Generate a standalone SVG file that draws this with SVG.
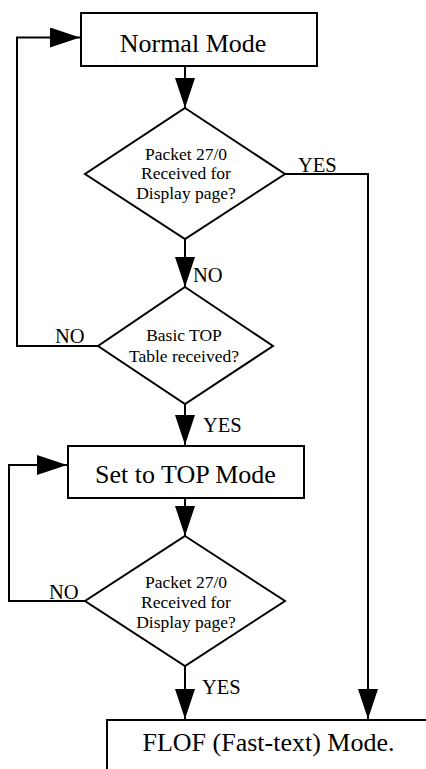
<svg xmlns="http://www.w3.org/2000/svg" width="426" height="769" viewBox="0 0 426 769">
<style>
  .box { fill: #fff; stroke: #000; stroke-width: 2; }
  .line { fill: none; stroke: #000; stroke-width: 2; }
  text { font-family: 'Liberation Serif', 'Times New Roman', serif; fill: #000; }
  .big { font-size: 26px; text-anchor: middle; }
  .mid { font-size: 17.5px; text-anchor: middle; }
  .lbl { font-size: 20.5px; }
</style>
<defs>
  <marker id="arrow" markerUnits="userSpaceOnUse" viewBox="0 0 30 20" markerWidth="30" markerHeight="20" refX="30" refY="10" orient="auto">
    <path d="M0,0 L30,10 L0,20 Z" fill="#000"/>
  </marker>
</defs>
<rect width="426" height="769" fill="#fff"/>
<g id="connectors">
  <path class="line" d="M185,66 L185,108" marker-end="url(#arrow)"/>
  <path class="line" d="M185,239 L185,287" marker-end="url(#arrow)"/>
  <path class="line" d="M98,346 L17,346 L17,37.5 L80,37.5" marker-end="url(#arrow)"/>
  <path class="line" d="M285,174 L368,174 L368,719" marker-end="url(#arrow)"/>
  <path class="line" d="M185,404 L185,445" marker-end="url(#arrow)"/>
  <path class="line" d="M185,498 L185,536" marker-end="url(#arrow)"/>
  <path class="line" d="M85,601 L9,601 L9,465 L67,465" marker-end="url(#arrow)"/>
  <path class="line" d="M185,666 L185,719" marker-end="url(#arrow)"/>
  <text class="lbl" x="298" y="172">YES</text>
  <text class="lbl" x="193" y="282">NO</text>
  <text class="lbl" x="55" y="343">NO</text>
  <text class="lbl" x="203" y="432">YES</text>
  <text class="lbl" x="49" y="599">NO</text>
  <text class="lbl" x="202" y="694">YES</text>
</g>
<g id="normal-mode">
  <rect class="box" x="81" y="13" width="236" height="53"/>
  <text class="big" x="193" y="52">Normal Mode</text>
</g>
<g id="decision-packet-1">
  <polygon class="box" points="185,108 285,174 185,239 85,174"/>
  <text class="mid" x="186" y="160">Packet 27/0</text>
  <text class="mid" x="186" y="179">Received for</text>
  <text class="mid" x="186" y="199">Display page?</text>
</g>
<g id="decision-top">
  <polygon class="box" points="185,287 273,346 185,404 98,346"/>
  <text class="mid" x="184" y="341">Basic TOP</text>
  <text class="mid" x="184" y="362">Table received?</text>
</g>
<g id="top-mode">
  <rect class="box" x="68" y="446" width="236" height="52"/>
  <text class="big" x="185.5" y="483">Set to TOP Mode</text>
</g>
<g id="decision-packet-2">
  <polygon class="box" points="185,536 285,601 185,666 85,601"/>
  <text class="mid" x="186" y="588">Packet 27/0</text>
  <text class="mid" x="186" y="608">Received for</text>
  <text class="mid" x="186" y="628">Display page?</text>
</g>
<g id="flof-mode">
  <rect class="box" x="107" y="720" width="340" height="80"/>
  <text class="big" x="268.5" y="751">FLOF (Fast-text) Mode.</text>
</g>
</svg>
